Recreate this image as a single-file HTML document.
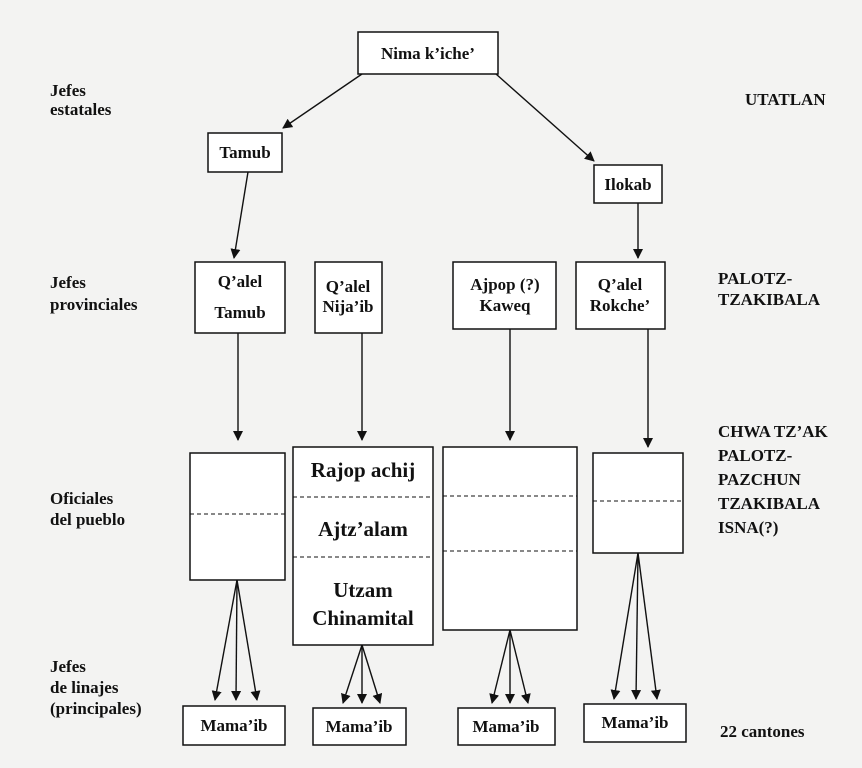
<!DOCTYPE html>
<html><head><meta charset="utf-8"><style>
html,body{margin:0;padding:0;background:#f3f3f2;}
svg{display:block;}
text{font-family:"Liberation Serif",serif;font-weight:bold;fill:#111;}
</style></head><body>
<svg width="862" height="768" viewBox="0 0 862 768" xmlns="http://www.w3.org/2000/svg">
<defs><marker id="a" markerWidth="10" markerHeight="10" refX="9" refY="5" orient="auto" markerUnits="userSpaceOnUse"><path d="M0,0 L10,5 L0,10 z" fill="#111"/></marker></defs>
<rect width="862" height="768" fill="#f3f3f2"/>
<g fill="#fff" stroke="#111" stroke-width="1.5">
<rect x="358" y="32" width="140" height="42"/>
<rect x="208" y="133" width="74" height="39"/>
<rect x="594" y="165" width="68" height="38"/>
<rect x="195" y="262" width="90" height="71"/>
<rect x="315" y="262" width="67" height="71"/>
<rect x="453" y="262" width="103" height="67"/>
<rect x="576" y="262" width="89" height="67"/>
<rect x="190" y="453" width="95" height="127"/>
<rect x="293" y="447" width="140" height="198"/>
<rect x="443" y="447" width="134" height="183"/>
<rect x="593" y="453" width="90" height="100"/>
<rect x="183" y="706" width="102" height="39"/>
<rect x="313" y="708" width="93" height="37"/>
<rect x="458" y="708" width="97" height="37"/>
<rect x="584" y="704" width="102" height="38"/>
</g>
<g stroke="#111" stroke-width="1" stroke-dasharray="4,3">
<line x1="190" y1="514" x2="285" y2="514"/>
<line x1="293" y1="497" x2="433" y2="497"/>
<line x1="293" y1="557" x2="433" y2="557"/>
<line x1="443" y1="496" x2="577" y2="496"/>
<line x1="443" y1="551" x2="577" y2="551"/>
<line x1="593" y1="501" x2="683" y2="501"/>
</g>
<g stroke="#111" stroke-width="1.4" marker-end="url(#a)">
<line x1="362" y1="74" x2="283" y2="128"/>
<line x1="496" y1="74" x2="594" y2="161"/>
<line x1="248" y1="172" x2="234" y2="258"/>
<line x1="638" y1="203" x2="638" y2="258"/>
<line x1="238" y1="333" x2="238" y2="440"/>
<line x1="362" y1="333" x2="362" y2="440"/>
<line x1="510" y1="329" x2="510" y2="440"/>
<line x1="648" y1="329" x2="648" y2="447"/>
<line x1="237" y1="580" x2="215" y2="700"/>
<line x1="237" y1="580" x2="236" y2="700"/>
<line x1="237" y1="580" x2="257" y2="700"/>
<line x1="362" y1="645" x2="343" y2="703"/>
<line x1="362" y1="645" x2="362" y2="703"/>
<line x1="362" y1="645" x2="380" y2="703"/>
<line x1="510" y1="630" x2="492" y2="703"/>
<line x1="510" y1="630" x2="510" y2="703"/>
<line x1="510" y1="630" x2="528" y2="703"/>
<line x1="638" y1="553" x2="614" y2="699"/>
<line x1="638" y1="553" x2="636" y2="699"/>
<line x1="638" y1="553" x2="657" y2="699"/>
</g>
<g font-size="17" text-anchor="middle">
<text x="428" y="59">Nima k’iche’</text>
<text x="245" y="158">Tamub</text>
<text x="628" y="190">Ilokab</text>
<text x="240" y="287">Q’alel</text>
<text x="240" y="318">Tamub</text>
<text x="348" y="292">Q’alel</text>
<text x="348" y="312">Nija’ib</text>
<text x="505" y="290">Ajpop (?)</text>
<text x="505" y="311">Kaweq</text>
<text x="620" y="290">Q’alel</text>
<text x="620" y="311">Rokche’</text>
<text x="234" y="731">Mama’ib</text>
<text x="359" y="732">Mama’ib</text>
<text x="506" y="732">Mama’ib</text>
<text x="635" y="728">Mama’ib</text>
</g>
<g font-size="21" text-anchor="middle">
<text x="363" y="477">Rajop achij</text>
<text x="363" y="536">Ajtz’alam</text>
<text x="363" y="597">Utzam</text>
<text x="363" y="625">Chinamital</text>
</g>
<g font-size="17">
<text x="50" y="96">Jefes</text>
<text x="50" y="115">estatales</text>
<text x="50" y="288">Jefes</text>
<text x="50" y="310">provinciales</text>
<text x="50" y="504">Oficiales</text>
<text x="50" y="525">del pueblo</text>
<text x="50" y="672">Jefes</text>
<text x="50" y="693">de linajes</text>
<text x="50" y="714">(principales)</text>
<text x="745" y="105">UTATLAN</text>
<text x="718" y="284">PALOTZ-</text>
<text x="718" y="305">TZAKIBALA</text>
<text x="718" y="437">CHWA TZ’AK</text>
<text x="718" y="461">PALOTZ-</text>
<text x="718" y="485">PAZCHUN</text>
<text x="718" y="509">TZAKIBALA</text>
<text x="718" y="533">ISNA(?)</text>
<text x="720" y="737">22 cantones</text>
</g>
</svg>
</body></html>
